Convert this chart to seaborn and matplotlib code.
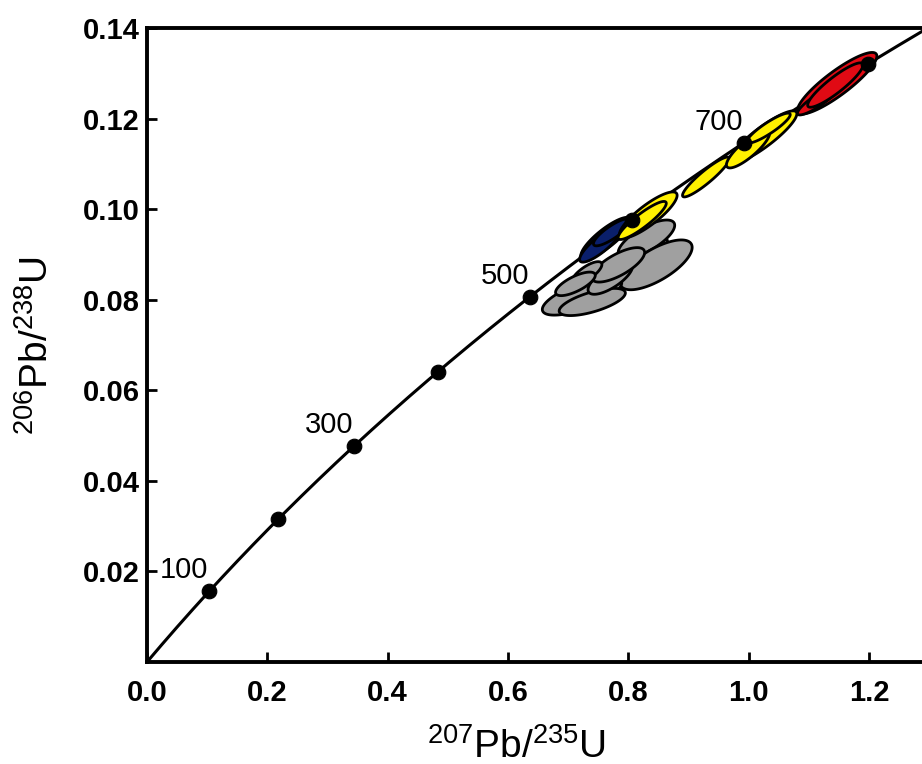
import numpy as np
import pandas as pd
import matplotlib
matplotlib.use("Agg")
import matplotlib.pyplot as plt
import seaborn as sns

# decay constants (1/yr) used for the concordia curve
LAMBDA_238 = 1.55125e-10
LAMBDA_235 = 9.8485e-10

# ages marked on the concordia (Ma) and the ones that get a label
marker_ages = [100, 200, 300, 400, 500, 600, 700, 800]
label_ages = [100, 300, 500, 700]

# error ellipses: 207Pb/235U, half-width, 206Pb/238U, half-height, correlation
gray_x = [0.820, 0.830, 0.846, 0.723, 0.740, 0.770, 0.783, 0.731, 0.712]
gray_sx = [0.045, 0.047, 0.060, 0.066, 0.055, 0.037, 0.044, 0.025, 0.033]
gray_y = [0.0905, 0.0934, 0.0877, 0.0808, 0.0795, 0.0848, 0.0877, 0.0859, 0.0835]
gray_sy = [0.0033, 0.0042, 0.0055, 0.0042, 0.0030, 0.0036, 0.0038, 0.0025, 0.0026]
gray_rho = [0.72, 0.72, 0.70, 0.70, 0.66, 0.72, 0.72, 0.75, 0.72]

blue_x = [0.763, 0.753, 0.773]
blue_sx = [0.042, 0.034, 0.031]
blue_y = [0.0936, 0.0921, 0.0949]
blue_sy = [0.0046, 0.0038, 0.0030]
blue_rho = [0.84, 0.84, 0.84]

yellow_x = [0.833, 0.823, 0.929, 1.024, 0.999, 1.033]
yellow_sx = [0.048, 0.040, 0.039, 0.056, 0.036, 0.036]
yellow_y = [0.0987, 0.0975, 0.1071, 0.1159, 0.1133, 0.1179]
yellow_sy = [0.0051, 0.0042, 0.0044, 0.0058, 0.0042, 0.0033]
yellow_rho = [0.85, 0.90, 0.92, 0.89, 0.84, 0.90]

red_x = [1.147, 1.114, 1.144]
red_sx = [0.066, 0.033, 0.046]
red_y = [0.1278, 0.1239, 0.1274]
red_sy = [0.0068, 0.0031, 0.0049]
red_rho = [0.88, 0.88, 0.90]

x_ticks = [0.0, 0.2, 0.4, 0.6, 0.8, 1.0, 1.2]
y_ticks = [0.02, 0.04, 0.06, 0.08, 0.10, 0.12, 0.14]


def concordia(age_ma):
    t = np.asarray(age_ma, dtype=float) * 1e6
    return np.expm1(LAMBDA_235 * t), np.expm1(LAMBDA_238 * t)


def draw_ellipses(ax, xs, sxs, ys, sys_, rhos, color):
    theta = np.linspace(0, 2 * np.pi, 200)
    circle = np.vstack([np.cos(theta), np.sin(theta)])
    for x, sx, y, sy, rho in zip(xs, sxs, ys, sys_, rhos):
        cov = np.array([[sx ** 2, rho * sx * sy], [rho * sx * sy, sy ** 2]])
        L = np.linalg.cholesky(cov)
        pts = L @ circle
        ax.fill(x + pts[0], y + pts[1], facecolor=color, edgecolor="black",
                linewidth=2.0, zorder=3)


sns.set_theme(style="ticks")
plt.rcParams["font.family"] = ["Liberation Sans", "DejaVu Sans"]
plt.rcParams["mathtext.fontset"] = "custom"
plt.rcParams["mathtext.rm"] = "Liberation Sans"
plt.rcParams["text.color"] = "black"
plt.rcParams["axes.labelcolor"] = "black"
plt.rcParams["xtick.color"] = "black"
plt.rcParams["ytick.color"] = "black"

fig = plt.figure(figsize=(9.22, 7.64), dpi=100)
ax = fig.add_axes([147 / 922, 102 / 764, 775 / 922, 634 / 764])

# concordia curve
curve_ages = np.linspace(0, 900, 400)
cx, cy = concordia(curve_ages)
curve = pd.DataFrame({"x": cx, "y": cy})
sns.lineplot(data=curve, x="x", y="y", ax=ax, color="black", linewidth=2.2,
             sort=False, zorder=2)

# ellipses
draw_ellipses(ax, blue_x, blue_sx, blue_y, blue_sy, blue_rho, "#0a1f6b")
draw_ellipses(ax, gray_x, gray_sx, gray_y, gray_sy, gray_rho, "#a0a0a0")
draw_ellipses(ax, yellow_x, yellow_sx, yellow_y, yellow_sy, yellow_rho, "#fff000")
draw_ellipses(ax, red_x, red_sx, red_y, red_sy, red_rho, "#e00a14")

# age markers
mx, my = concordia(marker_ages)
markers = pd.DataFrame({"x": mx, "y": my, "age": marker_ages})
sns.scatterplot(data=markers, x="x", y="y", ax=ax, color="black", s=110,
                edgecolor="black", zorder=5, legend=False)
for _, row in markers[markers["age"].isin(label_ages)].iterrows():
    ax.annotate(f"{int(row['age'])}", (row["x"], row["y"]), xytext=(-18, 15),
                textcoords="offset points", ha="center", va="center",
                fontsize=21, color="black", zorder=6)

ax.set_xlim(0, 1.288)
ax.set_ylim(0, 0.14)
ax.set_xticks(x_ticks)
ax.set_xticklabels([f"{v:.1f}" for v in x_ticks])
ax.set_yticks(y_ticks)
ax.set_yticklabels([f"{v:.2f}" for v in y_ticks])

for side in ["left", "bottom", "top"]:
    ax.spines[side].set_linewidth(2.8)
    ax.spines[side].set_color("black")
ax.spines["right"].set_visible(False)

ax.tick_params(axis="both", which="major", direction="in", length=7, width=2,
               color="black", labelsize=21, bottom=True, left=True,
               top=False, right=False)
ax.tick_params(axis="x", pad=12)
ax.tick_params(axis="y", pad=5)
for lab in ax.get_xticklabels() + ax.get_yticklabels():
    lab.set_fontweight("bold")

ax.set_xlabel(r"$^{207}$Pb/$^{235}$U", fontsize=28)
ax.set_ylabel(r"$^{206}$Pb/$^{238}$U", fontsize=28)
ax.xaxis.set_label_coords((517 - 147) / 775, -0.104)
ax.yaxis.set_label_coords(-0.118, 0.5)

fig.savefig("out.png", dpi=100)
